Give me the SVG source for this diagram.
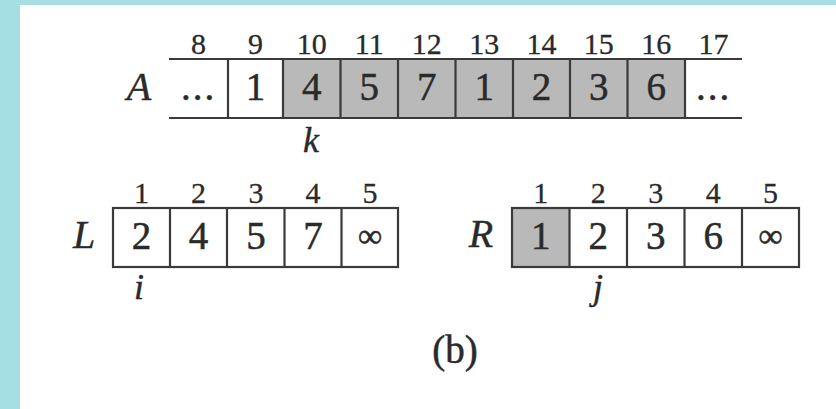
<svg xmlns="http://www.w3.org/2000/svg" width="836" height="409" viewBox="0 0 836 409">
<style>
.ln{stroke:#3a3a3a;stroke-width:2.2;fill:none}
.sh{fill:#b9b9b9}
.idx{font-family:"Liberation Serif",serif;font-size:30px;fill:#2a2a2a;text-anchor:middle;stroke:#2a2a2a;stroke-width:0.3}
.val{font-family:"Liberation Serif",serif;font-size:39px;fill:#2a2a2a;text-anchor:middle;stroke:#2a2a2a;stroke-width:0.5}
.var{font-family:"Liberation Serif",serif;font-style:italic;font-size:40px;fill:#2a2a2a;text-anchor:middle;stroke:#2a2a2a;stroke-width:0.4}
.ptr{font-family:"Liberation Serif",serif;font-style:italic;font-size:36px;fill:#2a2a2a;text-anchor:middle;stroke:#2a2a2a;stroke-width:0.4}
</style>
<rect x="0" y="0" width="836" height="409" fill="#a6dfe3"/>
<rect x="20" y="5" width="816" height="404" fill="#ffffff"/>

<g id="arrayA">
  <rect class="sh" x="283" y="59" width="402" height="59"/>
  <line class="ln" x1="169" y1="59" x2="742" y2="59"/>
  <line class="ln" x1="169" y1="118" x2="742" y2="118"/>
  <g class="ln">
    <line x1="228" y1="59" x2="228" y2="118"/>
    <line x1="283" y1="59" x2="283" y2="118"/>
    <line x1="340.5" y1="59" x2="340.5" y2="118"/>
    <line x1="398" y1="59" x2="398" y2="118"/>
    <line x1="455.5" y1="59" x2="455.5" y2="118"/>
    <line x1="513" y1="59" x2="513" y2="118"/>
    <line x1="570" y1="59" x2="570" y2="118"/>
    <line x1="627.5" y1="59" x2="627.5" y2="118"/>
    <line x1="685" y1="59" x2="685" y2="118"/>
  </g>
  <text class="var" x="139" y="100">A</text>
  <g class="idx">
    <text x="198.5" y="54">8</text>
    <text x="255.5" y="54">9</text>
    <text x="311.7" y="54">10</text>
    <text x="369.2" y="54">11</text>
    <text x="426.7" y="54">12</text>
    <text x="484.2" y="54">13</text>
    <text x="541.5" y="54">14</text>
    <text x="598.7" y="54">15</text>
    <text x="656.2" y="54">16</text>
    <text x="713.5" y="54">17</text>
  </g>
  <g class="val">
    <text x="198.5" y="100" letter-spacing="2">...</text>
    <text x="255.5" y="100">1</text>
    <text x="311.7" y="100">4</text>
    <text x="369.2" y="100">5</text>
    <text x="426.7" y="100">7</text>
    <text x="484.2" y="100">1</text>
    <text x="541.5" y="100">2</text>
    <text x="598.7" y="100">3</text>
    <text x="656.2" y="100">6</text>
    <text x="713.5" y="100" letter-spacing="2">...</text>
  </g>
  <text class="ptr" x="311" y="152">k</text>
</g>

<g id="arrayL">
  <rect class="ln" x="113" y="208" width="285" height="59"/>
  <g class="ln">
    <line x1="170" y1="208" x2="170" y2="267"/>
    <line x1="227" y1="208" x2="227" y2="267"/>
    <line x1="284.5" y1="208" x2="284.5" y2="267"/>
    <line x1="341.5" y1="208" x2="341.5" y2="267"/>
  </g>
  <text class="var" x="84" y="248">L</text>
  <g class="idx">
    <text x="141.5" y="203">1</text>
    <text x="198.5" y="203">2</text>
    <text x="256" y="203">3</text>
    <text x="313" y="203">4</text>
    <text x="370" y="203">5</text>
  </g>
  <g class="val">
    <text x="141.5" y="249">2</text>
    <text x="198.5" y="249">4</text>
    <text x="256" y="249">5</text>
    <text x="313" y="249">7</text>
    <text x="370" y="247" font-size="34">∞</text>
  </g>
  <text class="ptr" x="139" y="299">i</text>
</g>

<g id="arrayR">
  <rect class="sh" x="512" y="208" width="57.5" height="59"/>
  <rect class="ln" x="512" y="208" width="287" height="59"/>
  <g class="ln">
    <line x1="569.5" y1="208" x2="569.5" y2="267"/>
    <line x1="627" y1="208" x2="627" y2="267"/>
    <line x1="684.5" y1="208" x2="684.5" y2="267"/>
    <line x1="742" y1="208" x2="742" y2="267"/>
  </g>
  <text class="var" x="481" y="247">R</text>
  <g class="idx">
    <text x="540.7" y="203">1</text>
    <text x="598.2" y="203">2</text>
    <text x="655.7" y="203">3</text>
    <text x="713.2" y="203">4</text>
    <text x="770.5" y="203">5</text>
  </g>
  <g class="val">
    <text x="540.7" y="249">1</text>
    <text x="598.2" y="249">2</text>
    <text x="655.7" y="249">3</text>
    <text x="713.2" y="249">6</text>
    <text x="770.5" y="247" font-size="34">∞</text>
  </g>
  <text class="ptr" x="598" y="299">j</text>
</g>

<g id="caption">
  <text class="val" x="455" y="363">(b)</text>
</g>
</svg>
